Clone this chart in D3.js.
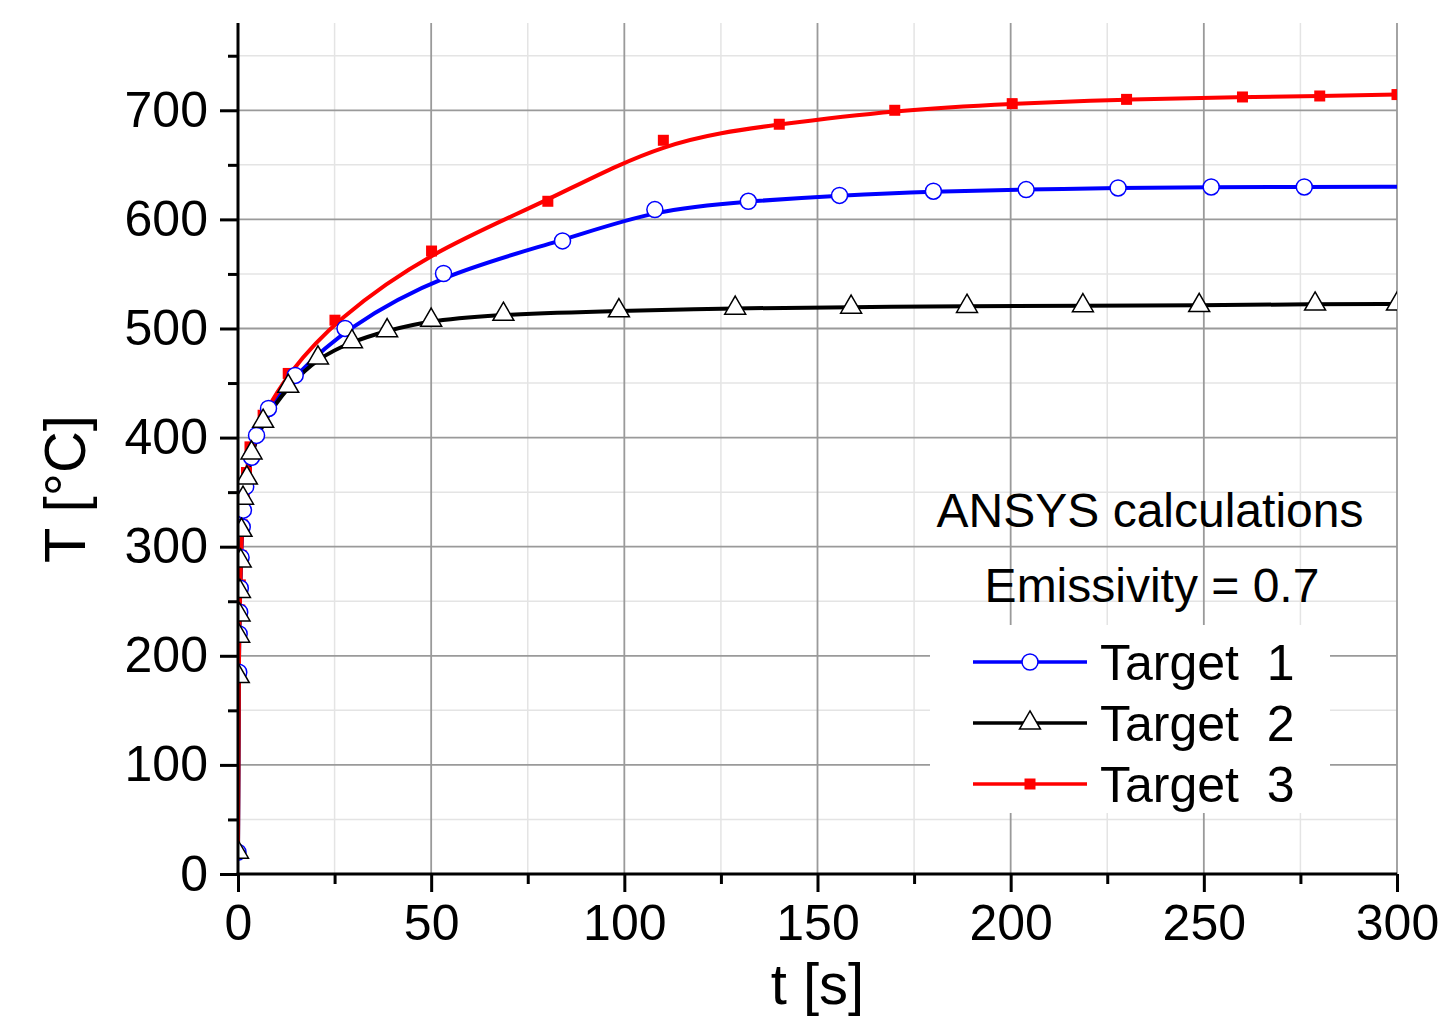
<!DOCTYPE html>
<html>
<head>
<meta charset="utf-8">
<script src="https://cdn.jsdelivr.net/npm/d3@7"></script>
<style>
  html, body { margin: 0; padding: 0; background: #fff; }
  svg { display: block; }
  text { font-family: "Liberation Sans", Arial, Helvetica, sans-serif; }
</style>
</head>
<body>
<svg id="chart" width="1439" height="1016"></svg>
<script>
// ---- data ----
const seriesNames = ["Target  1", "Target  2", "Target  3"];

const t1 = [0, 0.2, 0.3, 0.45, 0.6, 0.8, 1.1, 1.4, 2.0, 3.5, 4.8, 7.9, 14.8, 27.7, 53.2, 84, 107.9, 132.1, 155.7, 180, 204, 227.8, 251.9, 276, 300];
const T1 = [20, 185, 220, 240, 262, 290, 318, 333.5, 355, 382, 402, 426.7, 457, 500, 550.4, 580.3, 609, 616.6, 622, 625.8, 627.3, 628.8, 629.7, 629.7, 630];

const t2 = [0, 0.2, 0.3, 0.4, 0.5, 0.7, 0.9, 1.3, 2.3, 3.5, 6.5, 13, 20.7, 29.5, 38.6, 50, 68.7, 98.6, 128.7, 158.7, 188.7, 218.7, 248.8, 278.8, 300];
const T2 = [20, 181, 218, 237.5, 259, 287, 315, 344.5, 363, 386, 415, 447, 473, 488, 498, 507.6, 513, 516.3, 518.6, 519.6, 520.3, 520.9, 521.1, 522.4, 522.4];

const t3 = [0, 0.2, 0.3, 0.45, 0.6, 0.8, 1.1, 1.6, 2.2, 3.1, 6.5, 13, 25.1, 50.1, 80.2, 110.1, 140.1, 170, 200.4, 230, 260, 280, 300];
const T3 = [20, 185, 220, 242, 265, 292, 320, 345, 368, 391.5, 420.5, 458.8, 507.6, 571, 616.6, 672.5, 687.2, 700, 706.1, 710, 712.2, 713.1, 714.4];

const xMajorTicks = [0, 50, 100, 150, 200, 250, 300];
const xMinorTicks = [25, 75, 125, 175, 225, 275];
const yMajorTicks = [0, 100, 200, 300, 400, 500, 600, 700];
const yMinorTicks = [50, 150, 250, 350, 450, 550, 650, 750];

const annotation1 = "ANSYS calculations";
const annotation2 = "Emissivity = 0.7";
const xTitle = "t [s]";
const yTitle = "T [°C]";

// ---- layout ----
const svg = d3.select("#chart");
const pLeft = 238, pRight = 1397, pTop = 23, pBottom = 874;
const x = d3.scaleLinear().domain([0, 300]).range([pLeft, pRight]);
const y = d3.scaleLinear().domain([0, 780]).range([pBottom, pTop]);

const series = [
  { name: seriesNames[0], t: t1, T: T1, color: "#0000ff", symbol: "circle" },
  { name: seriesNames[1], t: t2, T: T2, color: "#000000", symbol: "triangle" },
  { name: seriesNames[2], t: t3, T: T3, color: "#ff0000", symbol: "square" }
];

// clip
svg.append("defs").append("clipPath").attr("id", "plotclip")
  .append("rect").attr("x", pLeft).attr("y", pTop).attr("width", pRight - pLeft).attr("height", pBottom - pTop);

// ---- grid ----
const grid = svg.append("g");
grid.selectAll(".vminor").data(xMinorTicks).join("line")
  .attr("x1", d => x(d)).attr("x2", d => x(d)).attr("y1", pTop).attr("y2", pBottom)
  .attr("stroke", "#e4e4e4").attr("stroke-width", 1.5);
grid.selectAll(".hminor").data(yMinorTicks).join("line")
  .attr("x1", pLeft).attr("x2", pRight).attr("y1", d => y(d)).attr("y2", d => y(d))
  .attr("stroke", "#e4e4e4").attr("stroke-width", 1.5);
grid.selectAll(".vmajor").data(xMajorTicks.filter(d => d > 0)).join("line")
  .attr("x1", d => x(d)).attr("x2", d => x(d)).attr("y1", pTop).attr("y2", pBottom)
  .attr("stroke", "#9a9a9a").attr("stroke-width", 1.8);
grid.selectAll(".hmajor").data(yMajorTicks.filter(d => d > 0)).join("line")
  .attr("x1", pLeft).attr("x2", pRight).attr("y1", d => y(d)).attr("y2", d => y(d))
  .attr("stroke", "#9a9a9a").attr("stroke-width", 1.8);

// legend background (covers grid)
svg.append("rect").attr("x", 930).attr("y", 625).attr("width", 400).attr("height", 188).attr("fill", "#fff");

// ---- series ----
const plot = svg.append("g").attr("clip-path", "url(#plotclip)");
const lineGen = d3.line().x(d => x(d[0])).y(d => y(d[1])).curve(d3.curveBasis);

function drawMarker(g, s, cx, cy) {
  if (s.symbol === "circle") {
    g.append("circle").attr("cx", cx).attr("cy", cy).attr("r", 8)
      .attr("fill", "#fff").attr("stroke", s.color).attr("stroke-width", 1.5);
  } else if (s.symbol === "triangle") {
    g.append("path").attr("d", d3.symbol().type(d3.symbolTriangle).size(190)())
      .attr("transform", `translate(${cx},${cy})`)
      .attr("fill", "#fff").attr("stroke", "#000").attr("stroke-width", 1.5);
  } else {
    g.append("path").attr("d", d3.symbol().type(d3.symbolSquare).size(121)())
      .attr("transform", `translate(${cx},${cy})`)
      .attr("fill", s.color).attr("stroke", "none");
  }
}

series.forEach(s => {
  const pts = s.t.map((tv, i) => [tv, s.T[i]]);
  plot.append("path").datum(pts).attr("d", lineGen)
    .attr("fill", "none").attr("stroke", s.color).attr("stroke-width", 4)
    .attr("stroke-linejoin", "round");
});
[series[2], series[0], series[1]].forEach(s => {
  const g = plot.append("g");
  s.t.forEach((tv, i) => {
    if (i === s.t.length - 1 && s.symbol === "circle") return;
    drawMarker(g, s, x(tv), y(s.T[i]));
  });
});

// ---- axes ----
const fontSize = 50;
const axesG = svg.append("g");

const xAxisMinor = d3.axisBottom(x).tickValues(xMinorTicks).tickSize(10).tickFormat("");
const xAxisMajor = d3.axisBottom(x).tickValues(xMajorTicks).tickSize(18).tickPadding(12).tickFormat(d3.format("d"));
const yAxisMinor = d3.axisLeft(y).tickValues(yMinorTicks).tickSize(10).tickFormat("");
const yAxisMajor = d3.axisLeft(y).tickValues(yMajorTicks).tickSize(18).tickPadding(12).tickFormat(d3.format("d"));

function styleAxis(g) {
  g.select(".domain").remove();
  g.selectAll(".tick line").attr("stroke", "#000").attr("stroke-width", 3);
  g.selectAll(".tick text").attr("fill", "#000").style("font-size", fontSize + "px")
    .style("font-family", '"Liberation Sans", Arial, sans-serif');
}
axesG.append("g").attr("transform", `translate(0,${pBottom})`).call(xAxisMinor).call(styleAxis);
axesG.append("g").attr("transform", `translate(0,${pBottom})`).call(xAxisMajor).call(styleAxis);
axesG.append("g").attr("transform", `translate(${pLeft},0)`).call(yAxisMinor).call(styleAxis);
axesG.append("g").attr("transform", `translate(${pLeft},0)`).call(yAxisMajor).call(styleAxis);

axesG.append("line").attr("x1", pLeft).attr("x2", pLeft).attr("y1", pTop).attr("y2", pBottom + 1.5)
  .attr("stroke", "#000").attr("stroke-width", 3);
axesG.append("line").attr("x1", pLeft - 1.5).attr("x2", pRight).attr("y1", pBottom).attr("y2", pBottom)
  .attr("stroke", "#000").attr("stroke-width", 3);

// axis titles
svg.append("text").attr("x", (pLeft + pRight) / 2).attr("y", 1004).attr("text-anchor", "middle")
  .style("font-size", "58px").attr("fill", "#000").text(xTitle);
svg.append("text").attr("transform", "translate(85,489) rotate(-90)").attr("text-anchor", "middle")
  .style("font-size", "58px").attr("fill", "#000").text(yTitle);

// annotations
svg.append("text").attr("x", 1150).attr("y", 527).attr("text-anchor", "middle")
  .style("font-size", "48px").attr("fill", "#000").text(annotation1);
svg.append("text").attr("x", 1152).attr("y", 602).attr("text-anchor", "middle")
  .style("font-size", "48px").attr("fill", "#000").text(annotation2);

// legend
const legendRows = [662, 723, 784];
const leg = svg.append("g");
series.forEach((s, i) => {
  const cy = legendRows[i];
  leg.append("line").attr("x1", 973).attr("x2", 1087).attr("y1", cy).attr("y2", cy)
    .attr("stroke", s.color).attr("stroke-width", 3.5);
  drawMarker(leg, s, 1030, cy);
  leg.append("text").attr("x", 1100).attr("y", cy + 18).style("font-size", "50px")
    .style("white-space", "pre").attr("fill", "#000").text(s.name);
});
</script>
</body>
</html>
